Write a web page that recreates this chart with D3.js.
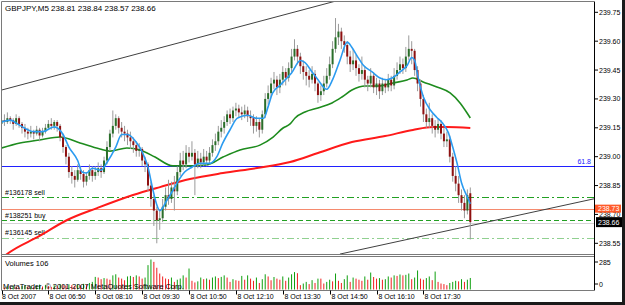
<!DOCTYPE html>
<html><head><meta charset="utf-8">
<script src="https://cdn.jsdelivr.net/npm/d3@7"></script>
<style>
body{margin:0;background:#fff;overflow:hidden}
svg{display:block}
text{font-family:"Liberation Sans",Arial,sans-serif;font-size:7px;fill:#000}
</style>
</head><body>
<svg id="c" width="625" height="305"></svg>
<script>
// ---------- DATA ----------
const symbolTitle = "GBPJPY,M5  238.81 238.84 238.57 238.66";
const opens = [
239.17,239.19,239.18,239.20,239.19,239.17,239.20,239.17,239.15,239.13,
239.12,239.13,239.12,239.14,239.11,239.13,239.15,239.17,239.16,239.18,
239.16,239.10,239.05,239.00,238.92,238.90,238.88,238.93,238.91,238.87,
238.90,238.93,238.90,238.92,238.94,238.92,238.98,239.05,239.12,239.16,
239.20,239.15,239.13,239.12,239.10,239.08,239.06,239.03,239.04,238.98,
238.96,238.85,238.78,238.72,238.67,238.68,238.74,238.80,238.78,238.84,
238.82,238.92,238.98,238.96,239.02,239.00,239.02,238.96,238.99,238.97,
239.00,238.98,239.02,239.06,239.08,239.13,239.15,239.18,239.22,239.20,
239.24,239.25,239.23,239.22,239.24,239.21,239.20,239.16,239.18,239.14,
239.22,239.30,239.33,239.38,239.40,239.36,239.40,239.44,239.41,239.46,
239.52,239.56,239.52,239.47,239.44,239.42,239.40,239.43,239.38,239.32,
239.34,239.38,239.42,239.48,239.56,239.62,239.65,239.60,239.58,239.52,
239.48,239.50,239.46,239.43,239.45,239.40,239.38,239.42,239.36,239.38,
239.34,239.38,239.36,239.40,239.37,239.42,239.45,239.48,239.46,239.52,
239.56,239.55,239.45,239.38,239.30,239.22,239.18,239.20,239.16,239.14,
239.17,239.12,239.08,239.09,239.00,238.90,238.86,238.80,238.76,238.72,
238.81];
const highs = [
239.21,239.22,239.23,239.21,239.20,239.22,239.21,239.18,239.17,239.15,
239.16,239.14,239.16,239.15,239.15,239.17,239.19,239.20,239.19,239.19,
239.17,239.12,239.06,239.02,238.95,238.93,238.96,238.95,238.93,238.92,
238.96,238.95,238.95,238.97,238.96,239.00,239.08,239.14,239.24,239.22,
239.21,239.18,239.16,239.14,239.13,239.10,239.08,239.07,239.05,239.00,
238.97,238.87,238.80,238.74,238.72,238.78,238.84,238.88,238.87,238.90,
238.95,239.02,239.03,239.06,239.05,239.08,239.04,239.03,239.02,239.04,
239.03,239.05,239.09,239.12,239.16,239.19,239.21,239.24,239.25,239.26,
239.28,239.27,239.26,239.27,239.26,239.24,239.22,239.21,239.20,239.24,
239.33,239.37,239.41,239.44,239.42,239.43,239.47,239.46,239.49,239.56,
239.61,239.58,239.54,239.50,239.47,239.45,239.47,239.45,239.39,239.37,
239.42,239.46,239.52,239.60,239.72,239.69,239.67,239.63,239.60,239.55,
239.56,239.53,239.48,239.52,239.47,239.42,239.46,239.44,239.41,239.40,
239.41,239.40,239.43,239.42,239.46,239.49,239.52,239.51,239.57,239.63,
239.60,239.56,239.47,239.40,239.32,239.25,239.28,239.22,239.19,239.20,
239.19,239.15,239.13,239.11,239.02,238.95,238.90,238.83,238.80,238.83,
238.84];
const lows = [
239.15,239.16,239.17,239.17,239.14,239.16,239.15,239.12,239.10,239.09,
239.10,239.09,239.11,239.08,239.10,239.12,239.14,239.14,239.14,239.13,
239.08,239.02,238.96,238.89,238.86,238.84,238.87,238.88,238.84,238.85,
238.88,238.87,238.88,238.90,238.89,238.91,238.96,239.03,239.10,239.14,
239.12,239.10,239.08,239.06,239.04,239.02,239.00,239.00,238.95,238.92,
238.82,238.74,238.64,238.55,238.62,238.66,238.72,238.75,238.76,238.72,
238.80,238.90,238.93,238.94,238.97,238.98,238.80,238.94,238.94,238.95,
238.95,238.96,239.00,239.03,239.06,239.10,239.12,239.16,239.17,239.18,
239.21,239.20,239.19,239.20,239.18,239.16,239.12,239.13,239.10,239.12,
239.20,239.27,239.31,239.35,239.32,239.33,239.37,239.37,239.39,239.44,
239.50,239.48,239.43,239.40,239.37,239.36,239.38,239.34,239.28,239.29,
239.32,239.36,239.40,239.46,239.54,239.58,239.56,239.54,239.48,239.44,
239.45,239.42,239.39,239.40,239.36,239.34,239.36,239.33,239.32,239.30,
239.32,239.33,239.34,239.34,239.35,239.40,239.43,239.43,239.44,239.50,
239.48,239.42,239.34,239.26,239.18,239.15,239.15,239.12,239.10,239.12,
239.09,239.05,239.05,238.97,238.87,238.82,238.76,238.72,238.68,238.70,
238.57];
const closes = [
239.19,239.18,239.20,239.19,239.17,239.20,239.17,239.15,239.13,239.12,
239.13,239.12,239.14,239.11,239.13,239.15,239.17,239.16,239.18,239.16,
239.10,239.05,239.00,238.92,238.90,238.88,238.93,238.91,238.87,238.90,
238.93,238.90,238.92,238.94,238.92,238.98,239.05,239.12,239.16,239.20,
239.15,239.13,239.12,239.10,239.08,239.06,239.03,239.04,238.98,238.96,
238.85,238.78,238.72,238.67,238.68,238.74,238.80,238.78,238.84,238.82,
238.92,238.98,238.96,239.02,239.00,239.02,238.96,238.99,238.97,239.00,
238.98,239.02,239.06,239.08,239.13,239.15,239.18,239.22,239.20,239.24,
239.25,239.23,239.22,239.24,239.21,239.20,239.16,239.18,239.14,239.22,
239.30,239.33,239.38,239.40,239.36,239.40,239.44,239.41,239.46,239.52,
239.56,239.52,239.47,239.44,239.42,239.40,239.43,239.38,239.32,239.34,
239.38,239.42,239.48,239.56,239.62,239.65,239.60,239.58,239.52,239.48,
239.50,239.46,239.43,239.45,239.40,239.38,239.42,239.36,239.38,239.34,
239.38,239.36,239.40,239.37,239.42,239.45,239.48,239.46,239.52,239.56,
239.55,239.45,239.38,239.30,239.22,239.18,239.20,239.16,239.14,239.17,
239.12,239.08,239.09,239.00,238.90,238.86,238.80,238.76,238.72,238.80,
238.66];
const volumes = [
25,18,30,22,35,28,20,32,40,26,30,22,36,45,28,40,32,24,38,30,
50,44,35,48,40,32,46,38,52,44,60,70,
116,110,95,105,100,90,130,140,110,100,85,120,125,115,130,120,100,110,
224,276,254,200,147,120,101,95,110,70,90,101,130,110,193,80,65,75,110,95,
101,90,110,120,105,116,130,110,70,95,85,80,125,90,130,100,80,110,60,95,
140,120,85,115,100,90,120,80,110,140,
160,150,40,55,70,50,86,60,100,100,55,70,90,75,147,80,60,95,130,70,
110,100,90,80,120,90,156,115,100,105,90,95,120,110,130,125,138,130,135,147,
95,110,175,100,90,105,120,86,165,70,55,50,40,60,70,80,75,95,70,90,106];

// moving averages (bar index, price)
const fastMaIdx = [0,3,6,11,14,18,21,23,26,27.5,29,31,34,36,39,41,43,46,48,50,51.5,53,54,56.5,58.5,61,62.5,65,67.5,71,73.5,75.5,78,80.5,84,87,89.5,91,92.5,95,97.5,99,102,103.5,106,108,111,113,115.5,118,119.5,121.5,123.5,126.5,129,131.5,133.5,136,138.5,140,141,142,144,146.5,148.5,150.5,152.5,154,155.5,157,159,160];
const fastMaVal = [239.18,239.19,239.165,239.13,239.13,239.155,239.115,239.05,238.98,238.92,238.915,238.94,238.93,238.97,239.05,239.115,239.115,239.075,239.025,238.945,238.84,238.75,238.72,238.775,238.825,238.89,238.92,238.945,238.965,238.965,239.00,239.07,239.14,239.20,239.215,239.20,239.20,239.26,239.33,239.37,239.41,239.435,239.50,239.49,239.44,239.40,239.35,239.40,239.50,239.595,239.57,239.52,239.475,239.44,239.41,239.40,239.41,239.44,239.475,239.515,239.50,239.425,239.31,239.24,239.205,239.175,239.125,239.05,238.965,238.865,238.79,238.755];
const midMaIdx = [0,6.3,13,20,26.8,33.6,37,42.8,47.3,52.4,58.5,63.3,70,75.6,81.4,88.2,92.7,96.1,98.5,100.2,103.6,108,112.8,116.2,119.6,124.1,128.5,133.6,138.4,140.4,143.9,148.6,153.1,156.5,158.9,160];
const midMaVal = [239.045,239.071,239.087,239.102,239.071,239.040,239.029,239.045,239.035,238.998,238.952,238.952,238.957,238.998,239.035,239.060,239.102,239.149,239.170,239.201,239.232,239.253,239.279,239.310,239.346,239.367,239.367,239.383,239.398,239.409,239.388,239.362,239.331,239.279,239.227,239.201];
const slowMaIdx = [0,1.9,13,22.4,32.6,44.9,54.1,64.3,75.6,87.2,98.5,108,119.6,130.9,140.4,147.3,152,160];
const slowMaVal = [238.47,238.494,238.588,238.671,238.733,238.801,238.842,238.884,238.915,238.941,238.972,239.019,239.076,239.107,239.139,239.154,239.154,239.149];

const priceTicks = ["239.75","239.60","239.45","239.30","239.15","239.00","238.85","238.70","238.55"];
const timeIdx = [0,16,32,48,64,80,96,112,128,144];
const timeLabels = ["8 Oct 2007","8 Oct 06:50","8 Oct 08:10","8 Oct 09:30","8 Oct 10:50","8 Oct 12:10","8 Oct 13:30","8 Oct 14:50","8 Oct 16:10","8 Oct 17:30"];
const volTicks = [285, 0];

const orderNames = ["#136178 sell","#138251 buy","#136145 sell"];
const orderPrices = [238.79, 238.67, 238.58];
const fibLabel = "61.8", fibPrice = 238.954;
const askPrice = 238.73, bidPrice = 238.66;
const upperTrendIdx = [0,112], upperTrendVal = [239.346,239.80];
const lowerTrendIdx = [115.5,201.9], lowerTrendVal = [238.494,238.78];
const volumesLabel = "Volumes 106";
const copyright = "MetaTrader, \u00a9 2001-2007 MetaQuotes Software Corp.";

// ---------- DRAW ----------
const svg = d3.select("#c");
const L = 2, R = 594, T = 2, B = 254.5;
const VT = 257.5, VB = 290.5;

const x = d3.scaleLinear().domain([0,160]).range([1.5,470.3]);
const y = d3.scaleLinear().domain([238.55,239.75]).range([243.3,12.3]);
const yv = d3.scaleLinear().domain([0,285]).range([289.5,258.5]);
const crisp = v => Math.round(v) + 0.5;

svg.append("rect").attr("width",625).attr("height",305).attr("fill","#fff");

const defs = svg.append("defs");
defs.append("clipPath").attr("id","mainClip").append("rect")
  .attr("x",L).attr("y",T).attr("width",R-L).attr("height",B-T);
defs.append("clipPath").attr("id","volClip").append("rect")
  .attr("x",L).attr("y",VT).attr("width",R-L).attr("height",VB-VT);

const main = svg.append("g").attr("clip-path","url(#mainClip)");

// horizontal levels
main.append("line").attr("x1",L).attr("x2",R).attr("y1",crisp(y(fibPrice))).attr("y2",crisp(y(fibPrice)))
  .attr("stroke","#2020ff").attr("stroke-width",1).attr("shape-rendering","crispEdges");
main.append("line").attr("x1",L).attr("x2",R).attr("y1",crisp(y(askPrice))).attr("y2",crisp(y(askPrice)))
  .attr("stroke","#f58a6e").attr("stroke-width",1).attr("shape-rendering","crispEdges");
main.append("line").attr("x1",L).attr("x2",R).attr("y1",crisp(y(bidPrice))+1).attr("y2",crisp(y(bidPrice))+1)
  .attr("stroke","#d4d4d4").attr("stroke-width",1).attr("shape-rendering","crispEdges");
const orderStyles = [
  {c:"#22a022", d:"7,3,2,3"},
  {c:"#22a022", d:"5,3"},
  {c:"#90d090", d:"7,3,2,3"}
];
orderPrices.forEach((p,k)=>{
  main.append("line").attr("x1",L).attr("x2",R).attr("y1",crisp(y(p))).attr("y2",crisp(y(p)))
    .attr("stroke",orderStyles[k].c).attr("stroke-width",1).attr("stroke-dasharray",orderStyles[k].d)
    .attr("shape-rendering","crispEdges");
  main.append("text").attr("x",5).attr("y",y(p)-2.5).text(orderNames[k]);
});

// trend lines (extended across the panel through the two anchors)
function trend(idx, val, color){
  const x0 = x(idx[0]), y0 = y(val[0]), x1 = x(idx[1]), y1 = y(val[1]);
  const s = (y1-y0)/(x1-x0);
  main.append("line").attr("x1",x0).attr("y1",y0).attr("x2",R).attr("y2",y0 + s*(R-x0))
    .attr("stroke",color).attr("stroke-width",1);
}
trend(upperTrendIdx, upperTrendVal, "#404040");
trend(lowerTrendIdx, lowerTrendVal, "#404040");

// slow & mid MA
const line = (idx, val) => d3.line().curve(d3.curveMonotoneX)
  .x((d,i)=>x(idx[i])).y((d,i)=>y(val[i]))(val);
main.append("path").attr("d",line(slowMaIdx,slowMaVal)).attr("fill","none")
  .attr("stroke","#ff1a1a").attr("stroke-width",2);
main.append("path").attr("d",line(midMaIdx,midMaVal)).attr("fill","none")
  .attr("stroke","#1e8c1e").attr("stroke-width",1.6);

// candles
const bars = d3.range(closes.length);
main.append("g").selectAll("line").data(bars).join("line")
  .attr("x1",i=>x(i)).attr("x2",i=>x(i))
  .attr("y1",i=>y(highs[i])).attr("y2",i=>y(lows[i]))
  .attr("stroke","#9a9a9a").attr("stroke-width",1);
main.append("g").selectAll("rect").data(bars).join("rect")
  .attr("x",i=>x(i)-1).attr("width",2)
  .attr("y",i=>y(Math.max(opens[i],closes[i])))
  .attr("height",i=>Math.max(1,Math.abs(y(opens[i])-y(closes[i]))))
  .attr("fill",i=>closes[i]>opens[i]?"#2a6e2a":(closes[i]<opens[i]?"#8e1010":"#222"));

// fast MA on top
main.append("path").attr("d",line(fastMaIdx,fastMaVal)).attr("fill","none")
  .attr("stroke","#2b9bf0").attr("stroke-width",1.6);

// fib label
svg.append("text").attr("x",R-3).attr("y",y(fibPrice)-2).attr("text-anchor","end")
  .style("fill","#2020ff").text(fibLabel);

// title
svg.append("text").attr("x",5).attr("y",11).style("font-size","8px").text(symbolTitle);

// volume bars
const vol = svg.append("g").attr("clip-path","url(#volClip)");
vol.selectAll("rect").data(bars).join("rect")
  .attr("x",i=>x(i)-0.5).attr("width",1)
  .attr("y",i=>yv(volumes[i])).attr("height",i=>yv(0)-yv(volumes[i]))
  .attr("fill",i=>(i>0 && volumes[i]>volumes[i-1])?"#10a010":"#f02020");
svg.append("text").attr("x",5).attr("y",266).style("font-size","7.5px").text(volumesLabel);
svg.append("text").attr("x",3).attr("y",289).style("font-size","7.5px").text(copyright);

// frames
const fr = svg.append("g").attr("fill","none").attr("stroke","#7a7a7a").attr("stroke-width",1);
fr.append("line").attr("x1",1.5).attr("x2",R).attr("y1",1.5).attr("y2",1.5);
fr.append("line").attr("x1",1.5).attr("x2",1.5).attr("y1",1.5).attr("y2",VB);
fr.append("line").attr("x1",1.5).attr("x2",R).attr("y1",B).attr("y2",B);
fr.append("line").attr("x1",1.5).attr("x2",R).attr("y1",VT-1).attr("y2",VT-1);
fr.append("line").attr("x1",1.5).attr("x2",R).attr("y1",VB).attr("y2",VB);
svg.append("line").attr("x1",R+0.5).attr("x2",R+0.5).attr("y1",1.5).attr("y2",VB)
  .attr("stroke","#000").attr("stroke-width",1);

// right price axis
const ax = svg.append("g");
priceTicks.forEach(t=>{
  const yy = y(+t);
  ax.append("line").attr("x1",R+1).attr("x2",R+4).attr("y1",yy).attr("y2",yy).attr("stroke","#000");
  ax.append("text").attr("x",R+5).attr("y",yy+2.5).text(t);
});
volTicks.forEach(t=>{
  const yy = t===0 ? 284 : 262;
  ax.append("line").attr("x1",R+1).attr("x2",R+4).attr("y1",yy).attr("y2",yy).attr("stroke","#000");
  ax.append("text").attr("x",R+5).attr("y",yy+2.5).text(t);
});
// ask / bid boxes
ax.append("rect").attr("x",R+1).attr("y",y(askPrice)-4).attr("width",26).attr("height",8).attr("fill","#ff5a2a");
ax.append("text").attr("x",R+4).attr("y",y(askPrice)+2.5).style("fill","#fff").text(askPrice.toFixed(2));
ax.append("rect").attr("x",R+2).attr("y",y(bidPrice)-5).attr("width",26).attr("height",10).attr("fill","#000");
ax.append("text").attr("x",R+4).attr("y",y(bidPrice)+2.5).style("fill","#fff").text(bidPrice.toFixed(2));

// time axis
timeIdx.forEach((ti,k)=>{
  const xx = Math.round(x(ti))+0.5;
  svg.append("line").attr("x1",xx).attr("x2",xx).attr("y1",VB).attr("y2",VB+4).attr("stroke","#000");
  svg.append("text").attr("x",k===0?2:xx+1).attr("y",299).text(timeLabels[k]);
});

// window edges
svg.append("rect").attr("x",622).attr("y",0).attr("width",3).attr("height",305).attr("fill","#1a1a1a");
svg.append("rect").attr("x",0).attr("y",302).attr("width",625).attr("height",3).attr("fill","#1a1a1a");
</script>
</body></html>
